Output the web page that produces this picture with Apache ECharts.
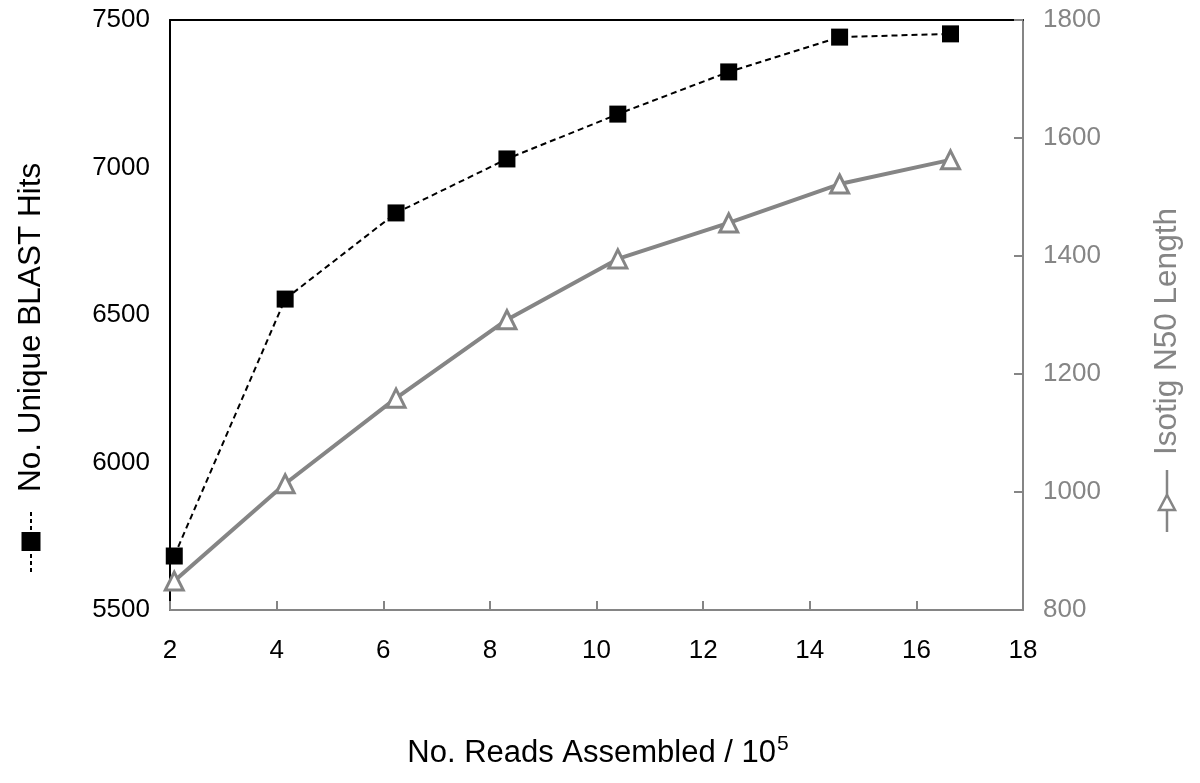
<!DOCTYPE html>
<html>
<head>
<meta charset="utf-8">
<script src="https://cdn.jsdelivr.net/npm/echarts@6/dist/echarts.min.js"></script>
<style>html,body{margin:0;padding:0;background:#fff}#c{width:1200px;height:783px}</style>
</head>
<body>
<div id="c"></div>
<script>
const readsAssembled = [2.08, 4.16, 6.24, 8.32, 10.4, 12.48, 14.56, 16.64];
const blastHits = [5683, 6554, 6846, 7029, 7181, 7324, 7442, 7453];
const isotigN50 = [849, 1014, 1159, 1292, 1395, 1456, 1522, 1563];
const xTitle = 'No. Reads Assembled / 10';
const xTitleSup = '5';
const leftTitle = 'No. Unique BLAST Hits';
const rightTitle = 'Isotig N50 Length';

const FONT = 'Liberation Sans, Arial, sans-serif';
const GRAY = '#858585';
const plain = v => String(v);

const chart = echarts.init(document.getElementById('c'));
chart.setOption({
  animation: false,
  backgroundColor: '#fff',
  grid: { left: 170, right: 177, top: 20, bottom: 173 },
  xAxis: [{
    type: 'value', min: 2, max: 18, interval: 2,
    axisLine: { show: true, lineStyle: { color: GRAY, width: 2 } },
    axisTick: { show: true, inside: true, length: 9, lineStyle: { color: GRAY, width: 2 } },
    axisLabel: { color: '#000', fontSize: 26, fontFamily: FONT, margin: 28, formatter: plain },
    splitLine: { show: false }
  }, {
    type: 'value', position: 'top', min: 2, max: 18,
    axisLine: { show: true, onZero: false, lineStyle: { color: '#000', width: 2 } },
    axisTick: { show: false }, axisLabel: { show: false }, splitLine: { show: false }
  }],
  yAxis: [{
    type: 'value', min: 5500, max: 7500, interval: 500, position: 'left',
    axisLine: { show: true, lineStyle: { color: '#000', width: 2 } },
    axisTick: { show: false },
    axisLabel: { color: '#000', fontSize: 26, fontFamily: FONT, margin: 20, formatter: plain },
    splitLine: { show: false }
  }, {
    type: 'value', min: 800, max: 1800, interval: 200, position: 'right',
    axisLine: { show: true, lineStyle: { color: GRAY, width: 2 } },
    axisTick: { show: true, inside: true, length: 9, lineStyle: { color: GRAY, width: 2 } },
    axisLabel: { color: GRAY, fontSize: 26, fontFamily: FONT, margin: 20, formatter: plain },
    splitLine: { show: false }
  }],
  series: [{
    name: rightTitle, type: 'line', xAxisIndex: 0, yAxisIndex: 1,
    data: readsAssembled.map((x, i) => [x, isotigN50[i]]),
    symbol: 'triangle', symbolSize: 18,
    lineStyle: { color: GRAY, width: 4 },
    itemStyle: { color: '#fff', borderColor: GRAY, borderWidth: 3 },
    z: 2
  }, {
    name: leftTitle, type: 'line', xAxisIndex: 0, yAxisIndex: 0,
    data: readsAssembled.map((x, i) => [x, blastHits[i]]),
    symbol: 'rect', symbolSize: 17,
    lineStyle: { color: '#000', width: 2, type: [6, 4] },
    itemStyle: { color: '#000' },
    z: 3
  }],
  graphic: [{
    type: 'group', x: 31, y: 572, rotation: Math.PI / 2,
    children: [
      { type: 'line', shape: { x1: 0, y1: 0, x2: 62, y2: 0 }, style: { stroke: '#000', lineWidth: 2, lineDash: [4, 3] } },
      { type: 'rect', shape: { x: 21, y: -9.5, width: 19, height: 19 }, style: { fill: '#000' } },
      { type: 'text', x: 80, y: 0, style: { text: leftTitle, font: '31.5px ' + FONT, fill: '#000', textAlign: 'left', textVerticalAlign: 'middle' } }
    ]
  }, {
    type: 'group', x: 1167, y: 532, rotation: Math.PI / 2,
    children: [
      { type: 'line', shape: { x1: 0, y1: 0, x2: 62, y2: 0 }, style: { stroke: GRAY, lineWidth: 2.5 } },
      { type: 'polygon', shape: { points: [[22, -8], [22, 8], [37, 0]] }, style: { fill: '#fff', stroke: GRAY, lineWidth: 2.5 } },
      { type: 'text', x: 77, y: 0, style: { text: rightTitle, font: '31.5px ' + FONT, fill: GRAY, textAlign: 'left', textVerticalAlign: 'middle' } }
    ]
  }, {
    type: 'text', x: 598, y: 751,
    style: {
      text: '{a|' + xTitle + '}{b|' + xTitleSup + '}',
      textAlign: 'center', textVerticalAlign: 'middle',
      rich: {
        a: { fontSize: 31, fontFamily: FONT, fill: '#000', verticalAlign: 'bottom' },
        b: { fontSize: 21, fontFamily: FONT, fill: '#000', verticalAlign: 'top', padding: [0, 0, 14, 1] }
      }
    }
  }]
});
</script>
</body>
</html>
